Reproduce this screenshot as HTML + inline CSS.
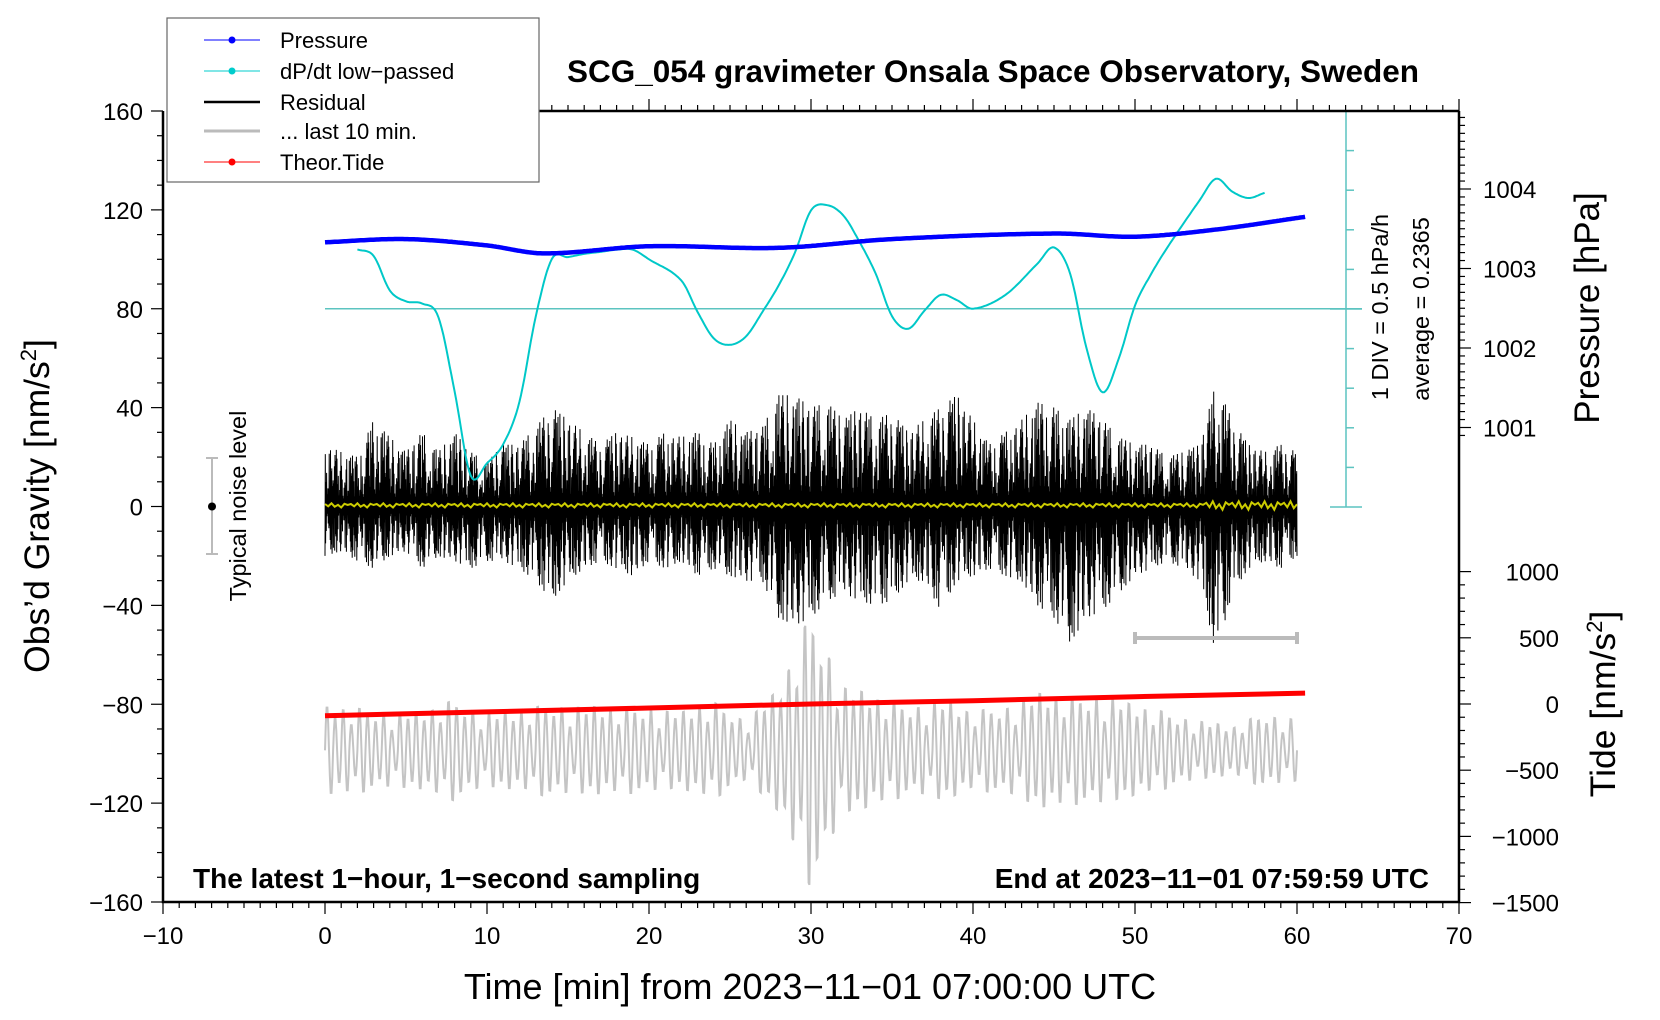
<!DOCTYPE html>
<html><head><meta charset="utf-8"><style>
html,body{margin:0;padding:0;background:#fff}
svg{display:block;font-family:"Liberation Sans",sans-serif}
</style></head><body>
<svg id="chart" width="1660" height="1020" viewBox="0 0 1660 1020">
<g id="series"></g>
<g id="axes"></g>
<g id="labels">
<text x="993" y="82" font-size="31.5" font-weight="bold" text-anchor="middle">SCG_054 gravimeter Onsala Space Observatory, Sweden</text>
<text transform="translate(49,506) rotate(-90)" font-size="35.5" text-anchor="middle">Obs’d Gravity [nm/s<tspan font-size="22" dy="-13">2</tspan><tspan dy="13">]</tspan></text>
<text transform="translate(1599,308) rotate(-90)" font-size="35" text-anchor="middle">Pressure [hPa]</text>
<text transform="translate(1615,704) rotate(-90)" font-size="35.5" text-anchor="middle">Tide [nm/s<tspan font-size="22" dy="-13">2</tspan><tspan dy="13">]</tspan></text>
<text x="810" y="999" font-size="36" text-anchor="middle">Time [min] from 2023−11−01 07:00:00 UTC</text>
<text x="193" y="888" font-size="28" font-weight="bold">The latest 1−hour, 1−second sampling</text>
<text x="1429" y="888" font-size="28" font-weight="bold" text-anchor="end">End at 2023−11−01 07:59:59 UTC</text>
<text transform="translate(1388,307) rotate(-90)" font-size="23.5" text-anchor="middle">1 DIV = 0.5 hPa/h</text>
<text transform="translate(1429,309) rotate(-90)" font-size="23.5" text-anchor="middle">average = 0.2365</text>
<text transform="translate(246,506) rotate(-90)" font-size="23.5" text-anchor="middle">Typical noise level</text>
</g>
<g id="legend">
<rect x="167" y="18" width="372" height="164" fill="#fff" stroke="#666" stroke-width="1.2"/>
<g><line x1="204" y1="40" x2="260" y2="40" stroke="#00f" stroke-width="1"/><circle cx="232" cy="40" r="3.5" fill="#00f"/><text x="280" y="48" font-size="22">Pressure</text></g>
<g><line x1="204" y1="71" x2="260" y2="71" stroke="#0cc" stroke-width="1"/><circle cx="232" cy="71" r="3.5" fill="#0cc"/><text x="280" y="79" font-size="22">dP/dt low−passed</text></g>
<g><line x1="204" y1="102" x2="260" y2="102" stroke="#000" stroke-width="2.5"/><text x="280" y="110" font-size="22">Residual</text></g>
<g><line x1="204" y1="131" x2="260" y2="131" stroke="#bbb" stroke-width="3"/><text x="280" y="139" font-size="22">... last 10 min.</text></g>
<g><line x1="204" y1="162" x2="260" y2="162" stroke="#f00" stroke-width="1"/><circle cx="232" cy="162" r="3.5" fill="#f00"/><text x="280" y="170" font-size="22">Theor.Tide</text></g>
</g>
</svg>
<script>
// ---- data ----
const pressT = [0,5,10,13.5,20,28,35,45,50,55,60.5];
const pressV = [1003.33,1003.37,1003.29,1003.19,1003.28,1003.26,1003.37,1003.44,1003.40,1003.49,1003.65];
const dpdtT = [2,3,4,5,6,7,8,9,10,11,12,13,14,15,16,17,18,19,20,22,23,24,25,26,27,28,29,30,31,32,33,34,35,36,37,38,39,40,42,44,45,46,47,48,49,50,51,52,54,55,56,57,58];
const dpdtV = [104,101.4,87.4,83,82.1,76.6,46.6,12.4,17.5,25.2,42.3,76.6,100.1,100.9,102.2,103,103.9,103.9,100,91.4,78.7,68,65.4,68.9,78.7,89.4,102.6,119.8,121.9,117.7,107,94.1,77,71.9,79.2,85.6,83.5,80,85.6,98.4,104.8,94.1,64.2,46.2,59.9,81.3,94.1,104.8,124,132.6,127.4,124.8,126.9];
const dpdtAvg = 80;
const resUpper = [25,22,20,35,28,22,30,22,30,22,18,25,25,32,40,35,30,25,30,28,25,30,28,30,25,35,30,32,45,45,40,42,35,40,35,38,30,35,40,45,35,25,30,35,42,40,35,40,35,28,25,25,20,22,25,50,35,25,22,25,22];
const resLower = [-20,-18,-22,-25,-20,-18,-25,-20,-22,-25,-22,-22,-25,-30,-38,-30,-25,-22,-25,-28,-22,-25,-22,-28,-25,-28,-30,-30,-45,-48,-45,-38,-35,-38,-40,-38,-30,-30,-42,-30,-28,-25,-28,-30,-40,-45,-55,-45,-42,-35,-28,-25,-22,-25,-30,-60,-35,-25,-22,-25,-20];
const grayT = [0,2,4,6,8,10,12,14,16,18,20,22,24,26,28,29,30,31,32,34,36,38,40,42,44,46,48,50,52,54,56,58,60];
const grayAmp = [340,330,310,300,400,300,300,380,350,330,350,300,380,250,480,780,1100,850,520,420,360,400,300,360,450,420,450,350,300,240,180,300,250];
const grayCenter = -350;
const tideT = [0,10,20,30,40,50,60.5];
const tideV = [-88,-60,-30,0,25,55,82];
const xTicks = [-10,0,10,20,30,40,50,60,70];
const yTicks = [160,120,80,40,0,-40,-80,-120,-160];
const pTicks = [1004,1003,1002,1001];
const tTicks = [1000,500,0,-500,-1000,-1500];

// ---- scales ----
const X0=163,X1=1459,Y0=111,Y1=902;
const sx = t => X0 + (t+10)/80*(X1-X0);
const sy = g => Y0 + (160-g)/320*(Y1-Y0);
const sp = p => 189 + (1004-p)*79.5;
const st = v => 704 - v/500*66.2;
const NS='http://www.w3.org/2000/svg';
function mk(tag,attrs,parent){const e=document.createElementNS(NS,tag);for(const k in attrs)e.setAttribute(k,attrs[k]);parent.appendChild(e);return e;}
function interp(T,V,t){if(t<=T[0])return V[0];for(let i=1;i<T.length;i++){if(t<=T[i]){const f=(t-T[i-1])/(T[i]-T[i-1]);return V[i-1]+f*(V[i]-V[i-1]);}}return V[V.length-1];}
function spline(T,V,t){if(t<=T[0])return V[0];if(t>=T[T.length-1])return V[V.length-1];let i=1;while(T[i]<t)i++;const i0=Math.max(i-2,0),i3=Math.min(i+1,T.length-1);const p0=V[i0],p1=V[i-1],p2=V[i],p3=V[i3];const h=T[i]-T[i-1];const m1=(p2-p0)/(T[i]-T[i0])*h,m2=(p3-p1)/(T[i3]-T[i-1])*h;const u=(t-T[i-1])/h,u2=u*u,u3=u2*u;return (2*u3-3*u2+1)*p1+(u3-2*u2+u)*m1+(-2*u3+3*u2)*p2+(u3-u2)*m2;}
const S=document.getElementById('series'), A=document.getElementById('axes');
const idx = resUpper.map((_,j)=>j);

// gray last-10-min trace
let d='';const pat=[1,0.75,0.95,0.6,1,0.85,0.7,0.9,0.5,0.95,0.8];
for(let i=0;i<=1200;i++){const t=i*0.05;const amp=interp(grayT,grayAmp,t);const ph=Math.sin(2*Math.PI*t/0.5)*pat[Math.floor(t/0.5)%11];d+=(i?'L':'M')+sx(t).toFixed(1)+','+st(grayCenter+amp*ph).toFixed(1);}
let el=mk('path',{d:d,fill:'none',stroke:'#c4c4c4','stroke-width':2},S);



// residual
d='';const rp=[1,0.35,0.8,0.2,0.95,0.5,0.4,0.85,0.3,0.65,0.15,0.9,0.55,0.25,0.75,0.45,1,0.3,0.6,0.2,0.7,0.4,0.88];
for(let i=0;i<=3000;i++){const t=i*0.02;const k=rp[(i*7+Math.floor(i/23))%23];const v=(i%2)?interp(idx,resUpper,t)*k:interp(idx,resLower,t)*k;d+=(i?'L':'M')+sx(t).toFixed(1)+','+sy(v).toFixed(1);}
el=mk('path',{d:d,fill:'none',stroke:'#000','stroke-width':1},S);



// yellow smoothed residual
d='';const yp=[0.5,-0.4,0.8,-0.6,0.2,-0.9,0.6,0.1];
for(let i=0;i<=300;i++){const t=i*0.2;d+=(i?'L':'M')+sx(t).toFixed(1)+','+sy(0.5+yp[i%8]*(t>54?2:1)).toFixed(1);}
el=mk('path',{d:d,fill:'none',stroke:'#cccc00','stroke-width':2},S);



// dP/dt average line and scale
el=mk('line',{x1:sx(0),y1:sy(dpdtAvg),x2:1362,y2:sy(dpdtAvg),stroke:'#5cc4c0','stroke-width':1.5},S);


el=mk('line',{x1:1346,y1:Y0,x2:1346,y2:507,stroke:'#5cc4c0','stroke-width':1.5},S);


for(let i=0;i<=10;i++){const y=Y0+i*39.6;const big=(i==0||i==5||i==10);const tk=mk('line',{x1:big?1330:1346,y1:y,x2:big?1362:1354,y2:y,stroke:'#5cc4c0','stroke-width':1.5},S);}

// dP/dt curve
d='';for(let i=0;i<=560;i++){const t=2+i*0.1;d+=(i?'L':'M')+sx(t).toFixed(1)+','+sy(spline(dpdtT,dpdtV,t)).toFixed(1);}
el=mk('path',{d:d,fill:'none',stroke:'#00c8c8','stroke-width':2,'stroke-linejoin':'round'},S);



// pressure
d='';for(let i=0;i<=605;i++){const t=i*0.1;d+=(i?'L':'M')+sx(t).toFixed(1)+','+sp(spline(pressT,pressV,t)).toFixed(1);}
el=mk('path',{d:d,fill:'none',stroke:'#0000ff','stroke-width':4.5},S);



// tide
d='';for(let i=0;i<tideT.length;i++){d+=(i?'L':'M')+sx(tideT[i]).toFixed(1)+','+st(tideV[i]).toFixed(1);}
el=mk('path',{d:d,fill:'none',stroke:'#ff0000','stroke-width':5},S);



// error bar last 10 min
el=mk('path',{d:`M${sx(50)},632V644M${sx(50)},638H${sx(60)}M${sx(60)},632V644`,stroke:'#bbb','stroke-width':4,fill:'none'},S);



// noise bar
el=mk('path',{d:`M206,458H218M212,458V554M206,554H218`,stroke:'#bbb','stroke-width':2,fill:'none'},S);


el=mk('circle',{cx:212,cy:sy(0),r:4,fill:'#000'},S);



// axes frame
el=mk('path',{d:`M${X0},${Y0}V${Y1}H${X1}V${Y0}`,fill:'none',stroke:'#000','stroke-width':2.5},A);


el=mk('line',{x1:539,y1:Y0,x2:X1,y2:Y0,stroke:'#000','stroke-width':2.5},A);


for(let t=-10;t<=70;t++){const x=sx(t);const maj=t%10==0;mk('line',{x1:x,y1:Y1,x2:x,y2:Y1+(maj?12:6),stroke:'#000','stroke-width':1.2},A);if(x>539)mk('line',{x1:x,y1:Y0,x2:x,y2:Y0-(maj?12:6),stroke:'#000','stroke-width':1.2},A);}
xTicks.forEach(t=>{const tx=mk('text',{x:sx(t),y:Y1+42,'font-size':24,'text-anchor':'middle'},A);tx.textContent=t<0?'−'+(-t):String(t);});
for(let g=-160;g<=160;g+=10){const y=sy(g);mk('line',{x1:X0,y1:y,x2:X0-(g%40==0?12:6),y2:y,stroke:'#000','stroke-width':1.2},A);}
yTicks.forEach(g=>{const tx=mk('text',{x:X0-20,y:sy(g)+9,'font-size':24,'text-anchor':'end'},A);tx.textContent=g<0?'−'+(-g):String(g);});
for(let i=0;i<=40;i++){const p=1004.9-i*0.1;const y=sp(p);if(y<Y0||y>500)continue;const maj=Math.abs(p-Math.round(p))<0.01;mk('line',{x1:X1,y1:y,x2:X1+(maj?12:6),y2:y,stroke:'#000','stroke-width':1.2},A);}
pTicks.forEach(p=>{const tx=mk('text',{x:1483,y:sp(p)+9,'font-size':24},A);tx.textContent=String(p);});
for(let v=-1500;v<=1000;v+=100){const y=st(v);mk('line',{x1:X1,y1:y,x2:X1+(v%500==0?12:6),y2:y,stroke:'#000','stroke-width':1.2},A);}
tTicks.forEach(v=>{const tx=mk('text',{x:1559,y:st(v)+9,'font-size':24,'text-anchor':'end'},A);tx.textContent=v<0?'−'+(-v):String(v);});
</script>
</body></html>
